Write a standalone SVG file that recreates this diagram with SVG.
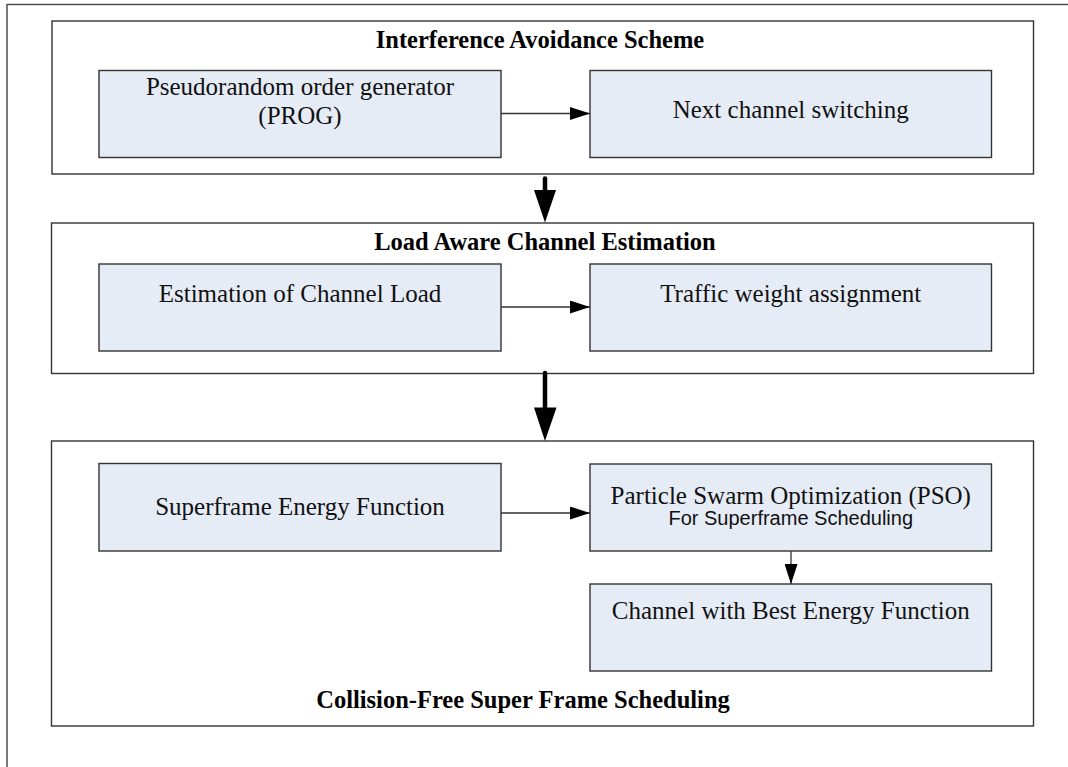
<svg xmlns="http://www.w3.org/2000/svg" width="1068" height="767" viewBox="0 0 1068 767">
  <style>
    .frame { fill: #ffffff; stroke: #444444; stroke-width: 1.4; }
    .stage { fill: #ffffff; stroke: #333333; stroke-width: 1.4; }
    .block { fill: #e6ecf6; stroke: #333333; stroke-width: 1.4; }
    .title { font-family: "Liberation Serif", "Times New Roman", serif; font-weight: bold; font-size: 24.5px; fill: #000000; text-anchor: middle; }
    .label { font-family: "Liberation Serif", "Times New Roman", serif; font-size: 25px; fill: #111111; text-anchor: middle; }
    .small { font-family: "Liberation Sans", Arial, sans-serif; font-size: 20px; fill: #111111; text-anchor: middle; }
    .thin { stroke: #333333; stroke-width: 1.3; fill: none; }
    .thick { stroke: #000000; stroke-width: 4.5; stroke-linecap: round; fill: none; }
  </style>
  <defs>
    <marker id="head" markerUnits="userSpaceOnUse" markerWidth="21" markerHeight="13" refX="20" refY="6.5" orient="auto">
      <path d="M0,0 L20,6.5 L0,13 Z" fill="#000000"/>
    </marker>
  </defs>

  <!-- outer frame, running off the right and bottom edges -->
  <rect class="frame" x="7" y="4.5" width="1100" height="800"/>

  <!-- stage 1 -->
  <g id="stage-interference">
    <rect class="stage" x="52" y="21" width="981.5" height="153"/>
    <text class="title" x="540" y="48">Interference Avoidance Scheme</text>
  </g>
  <g id="node-prog">
    <rect class="block" x="99" y="70.5" width="402" height="87"/>
    <text class="label" x="300" y="95">Pseudorandom order generator</text>
    <text class="label" x="300" y="124">(PROG)</text>
  </g>
  <g id="node-next-channel">
    <rect class="block" x="590" y="70.5" width="401.5" height="87"/>
    <text class="label" x="790.75" y="118">Next channel switching</text>
  </g>

  <!-- stage 2 -->
  <g id="stage-load">
    <rect class="stage" x="51.5" y="223" width="982" height="150.5"/>
    <text class="title" x="545" y="250">Load Aware Channel Estimation</text>
  </g>
  <g id="node-estimation">
    <rect class="block" x="99" y="264" width="402" height="87"/>
    <text class="label" x="300" y="302">Estimation of Channel Load</text>
  </g>
  <g id="node-traffic">
    <rect class="block" x="590" y="264" width="401.5" height="87"/>
    <text class="label" x="790.75" y="302">Traffic weight assignment</text>
  </g>

  <!-- stage 3 -->
  <g id="stage-collision">
    <rect class="stage" x="51.5" y="441" width="982" height="285"/>
    <text class="title" x="523" y="708">Collision-Free Super Frame Scheduling</text>
  </g>
  <g id="node-superframe">
    <rect class="block" x="99" y="463.5" width="402" height="87.5"/>
    <text class="label" x="300" y="515">Superframe Energy Function</text>
  </g>
  <g id="node-pso">
    <rect class="block" x="590" y="464" width="401.5" height="87"/>
    <text class="label" x="790.75" y="504">Particle Swarm Optimization (PSO)</text>
    <text class="small" x="790.75" y="525">For Superframe Scheduling</text>
  </g>
  <g id="node-best-channel">
    <rect class="block" x="590" y="584" width="401.5" height="87"/>
    <text class="label" x="790.75" y="619">Channel with Best Energy Function</text>
  </g>

  <!-- connectors -->
  <g id="connectors">
    <line class="thin" x1="501" y1="113.5" x2="590" y2="113.5" marker-end="url(#head)"/>
    <line class="thin" x1="501" y1="307" x2="590" y2="307" marker-end="url(#head)"/>
    <line class="thin" x1="501" y1="513" x2="590" y2="513" marker-end="url(#head)"/>
    <line class="thin" x1="791" y1="551" x2="791" y2="584" marker-end="url(#head)"/>

    <line class="thick" x1="545" y1="178.5" x2="545" y2="192"/>
    <path d="M534,190 L556,190 L545,222.5 Z" fill="#000000"/>
    <line class="thick" x1="545" y1="373" x2="545" y2="410"/>
    <path d="M534,407.5 L556.5,407.5 L545,441 Z" fill="#000000"/>
  </g>
</svg>
